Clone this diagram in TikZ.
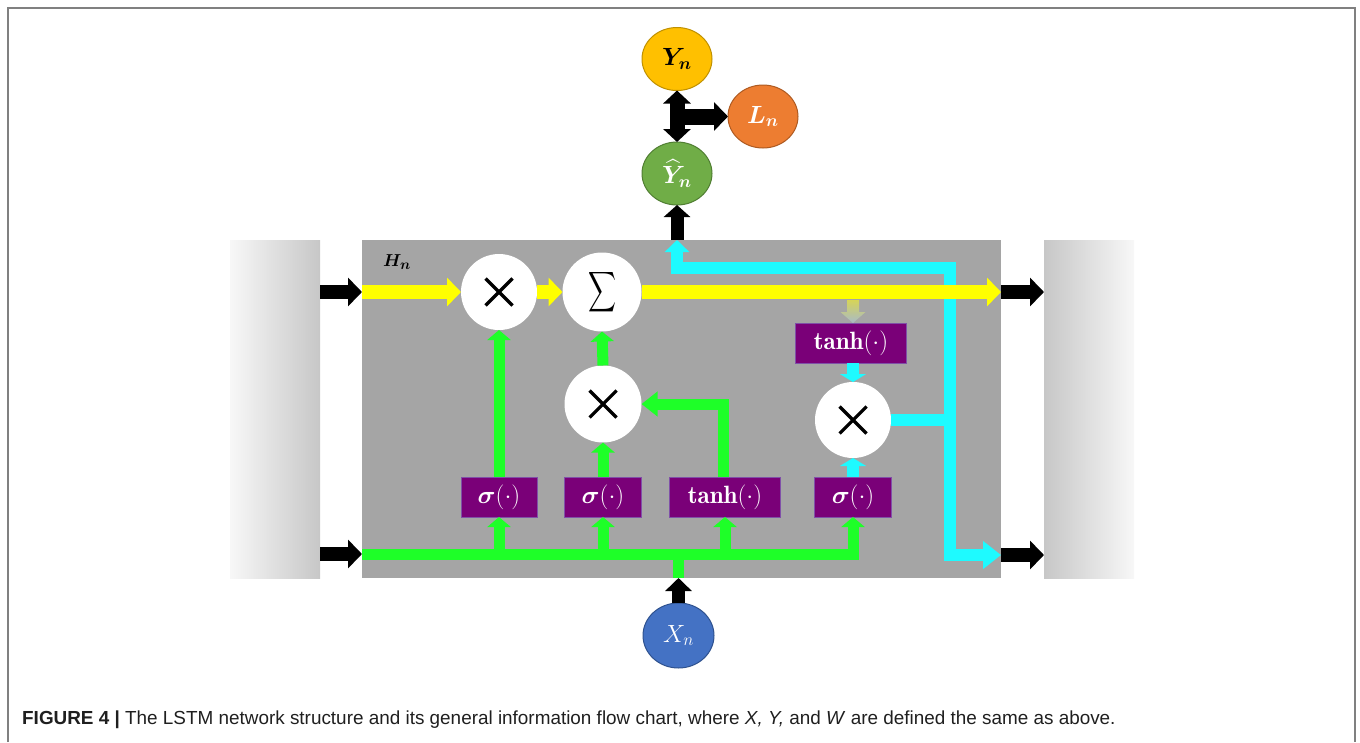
\documentclass[tikz,border=0pt]{standalone}
\usepackage{amsmath,bm}
\usepackage{graphicx}
\usepackage{fontspec}
\newfontfamily\capfont{Liberation Sans}
\usetikzlibrary{arrows.meta,shapes.geometric}

\definecolor{cellgray}{HTML}{A5A5A5}
\definecolor{ylw}{HTML}{FFFF00}
\definecolor{grn}{HTML}{1EFF28}
\definecolor{cyn}{HTML}{1EFAFF}
\definecolor{gate}{HTML}{7A0078}
\definecolor{gateedge}{HTML}{8050A8}
\definecolor{yfill}{HTML}{FFC000}
\definecolor{yedge}{HTML}{BF9000}
\definecolor{lfill}{HTML}{ED7D31}
\definecolor{ledge}{HTML}{AE5A21}
\definecolor{hfill}{HTML}{70AD47}
\definecolor{hedge}{HTML}{507E32}
\definecolor{xfill}{HTML}{4472C4}
\definecolor{xedge}{HTML}{2F528F}
\definecolor{framegray}{HTML}{808080}

\begin{document}
\begin{tikzpicture}[x=1pt,y=-1pt,
  panel/.style={rectangle, inner sep=0, outer sep=0, minimum width=90pt, minimum height=338pt},
  op/.style={circle, fill=white, inner sep=0, outer sep=0},
  mul/.style={op, minimum size=76pt,
    path picture={\draw[line width=3.2pt]
      ([shift={(-13.5pt,-13.5pt)}]path picture bounding box.center) --
      ([shift={(13.5pt,13.5pt)}]path picture bounding box.center)
      ([shift={(-13.5pt,13.5pt)}]path picture bounding box.center) --
      ([shift={(13.5pt,-13.5pt)}]path picture bounding box.center);}},
  gatebox/.style={rectangle, fill=gate, draw=gateedge, line width=1pt, text=white,
    inner sep=0, outer sep=0, minimum height=40pt, font=\fontsize{25}{25}\selectfont},
  var/.style={ellipse, inner sep=0, outer sep=0, minimum width=70pt, minimum height=63pt,
    line width=1pt, font=\fontsize{23}{23}\selectfont},
  yflow/.style={draw=ylw, line width=14pt, -{Triangle[length=14pt,width=28pt]}},
  gflow/.style={draw=grn, line width=11pt, line join=miter, -{Triangle[length=10pt,width=23pt]}},
  gline/.style={draw=grn, line width=11pt},
  cflow/.style={draw=cyn, line width=12pt, line join=miter},
  bflow/.style={draw=black, line width=14pt, -{Triangle[length=14pt,width=28pt]}}
]
\useasboundingbox (0,0) rectangle (1360,742);

% figure frame
\draw[framegray, line width=2pt] (8,742) -- (8,8) -- (1355,8) -- (1355,742);

% neighbouring cells and the LSTM cell
\node[panel, left color=black!3, right color=black!22] (lpanel) at (275,409) {};
\node[panel, left color=black!22, right color=black!3] (rpanel) at (1089,409) {};
\node[rectangle, fill=cellgray, inner sep=0, outer sep=0,
      minimum width=639pt, minimum height=338pt] (cell) at (681.5,409) {};
\node[font=\fontsize{19}{19}\selectfont] (hlabel) at (397,262) {$\boldsymbol{H_n}$};

% operators
\node[mul] (m1) at (499,292) {};
\node[op, minimum size=79pt] (sum) at (602,292)
  {\resizebox*{28pt}{45pt}{$\displaystyle\sum$}};
\node[mul, minimum size=77pt] (m2) at (603,404) {};
\node[mul] (m3) at (853,420) {};

% gates
\node[gatebox, minimum width=76pt] (s1) at (499,497) {$\boldsymbol{\sigma}(\cdot)$};
\node[gatebox, minimum width=77pt] (s2) at (603,497) {$\boldsymbol{\sigma}(\cdot)$};
\node[gatebox, minimum width=111pt] (t1) at (725,497) {$\mathbf{tanh}(\cdot)$};
\node[gatebox, minimum width=77pt] (s3) at (853,497) {$\boldsymbol{\sigma}(\cdot)$};
\node[gatebox, minimum width=111pt] (t2) at (851,343) {$\mathbf{tanh}(\cdot)$};

% inputs and outputs
\node[var, fill=yfill, draw=yedge] (yn) at (677,59) {$\boldsymbol{Y_n}$};
\node[var, fill=lfill, draw=ledge, text=white] (ln) at (763,116.5) {$\boldsymbol{L_n}$};
\node[var, fill=hfill, draw=hedge, text=white] (yh) at (677,173.5) {$\boldsymbol{\widehat{Y}_n}$};
\node[var, fill=xfill, draw=xedge, text=white, minimum width=71pt, minimum height=65pt,
      font=\fontsize{24}{24}\selectfont] (xn) at (678.5,635.5) {$X_n$};

\coordinate (busL) at (362,554);
\coordinate (busR) at (1001,555);
\coordinate (cturn) at (949.5,268);

% hidden state path
\draw[cflow] (m3.east) -- (cturn |- m3.east);
\draw[cflow, {Triangle[length=12pt,width=24pt]}-{Triangle[length=18pt,width=27pt]}]
  (yh |- cell.north) |- (cturn) |- (busR);
\draw[cflow, -{Triangle[length=8pt,width=26pt]}] (m3 |- t2.south) -- (m3.north);
\draw[cflow, -{Triangle[length=8pt,width=26pt]}] (m3 |- s3.north) -- (m3.south);

% input bus and gate paths
\draw[gflow] (busL) -| (s3.south);
\draw[gflow] (s1.south |- busL) -- (s1.south);
\draw[gflow] (s2.south |- busL) -- (s2.south);
\draw[gflow] (t1.south |- busL) -- (t1.south);
\draw[gline] (xn |- busL) -- (xn |- cell.south);
\draw[gflow] (s1.north) -- (m1.south);
\draw[gflow] (s2.north) -- (m2.south);
\draw[gflow] (m2.north) -- (sum.south);
\draw[gflow, -{Triangle[length=16pt,width=24pt]}] ([xshift=-2pt]t1.north) |- (m2.east);

% cell state into the output tanh
\begin{scope}[shift={(m3 |- t2.north)}]
  \shade[top color={rgb,255:red,214;green,212;blue,88}, bottom color={rgb,255:red,168;green,186;blue,200}]
    (-6,-23) -- (-6,-11) -- (-12.5,-11) -- (0,0) -- (12.5,-11) -- (6,-11) -- (6,-23) -- cycle;
\end{scope}

% cell state path
\draw[yflow] (cell.west |- m1) -- (m1.west);
\draw[yflow] (m1.east) -- (sum.west);
\draw[yflow] (sum.east) -- (cell.east |- sum);

% links between cells
\draw[bflow] (lpanel.east |- m1) -- (cell.west |- m1);
\draw[bflow] (lpanel.east |- busL) -- (busL);
\draw[bflow] (cell.east |- sum) -- (rpanel.west |- sum);
\draw[bflow] (busR) -- (rpanel.west |- busR);

% input and output arrows
\draw[bflow, line width=13pt, -{Triangle[length=13pt,width=26pt]}] (xn.north) -- (xn |- cell.south);
\draw[bflow, line width=13pt, -{Triangle[length=12pt,width=26pt]}] (yh |- cell.north) -- (yh.south);
\draw[bflow, line width=15pt, {Triangle[length=13pt,width=27pt]}-{Triangle[length=13pt,width=27pt]}]
  (yn.south) -- (yh.north);
\draw[bflow, line width=16pt] (yn.south |- ln.west) -- (ln.west);

% caption
\node[anchor=base west, inner sep=0, text=black!88,
      font=\capfont\fontsize{18.9}{18.9}\selectfont] (cap) at (22,724)
  {\textbf{FIGURE 4 |} The LSTM network structure and its general information flow chart, where \textit{X, Y,} and \textit{W} are defined the same as above.};
\end{tikzpicture}
\end{document}
